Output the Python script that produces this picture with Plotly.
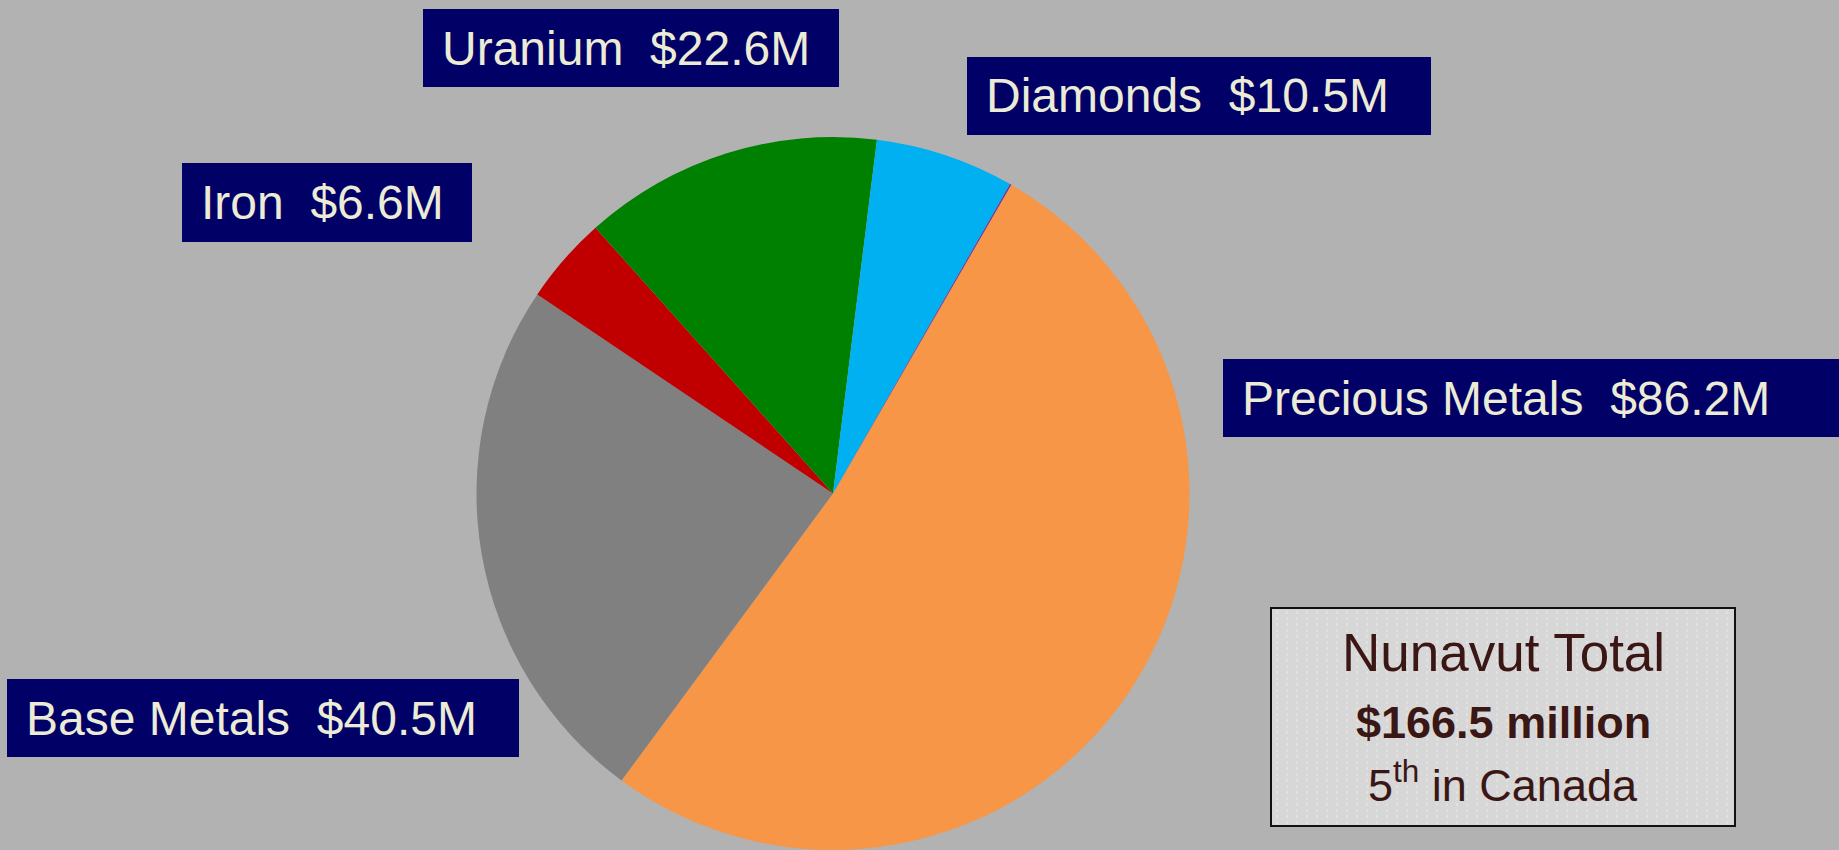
import plotly.graph_objects as go

# ---- data ----
categories = ["Precious Metals", "Base Metals", "Iron", "Uranium", "Diamonds", "Other"]
values_musd = [86.2, 40.5, 6.6, 22.6, 10.5, 0.1]
slice_colors = ["#F79646", "#808080", "#C00000", "#008000", "#00B0F0", "#7030A0"]
labelled = ["Precious Metals", "Base Metals", "Iron", "Uranium", "Diamonds"]
total_caption = "Nunavut Total"
rank_caption = "5<sup>th</sup> in Canada"

# ---- layout (pixel geometry) ----
W, H = 1839, 850
BG = "#B2B2B2"
NAVY = "#000066"
CREAM = "#ECEBD6"
label_boxes = {  # x0, y0, x1, y1 in pixels (top-left origin)
    "Uranium": (423, 9, 839, 87),
    "Diamonds": (967, 57, 1431, 135),
    "Iron": (182, 163, 472, 242),
    "Precious Metals": (1223, 359, 1839, 437),
    "Base Metals": (7, 679, 519, 757),
}
total_box = (1271, 608, 1735, 826)


def px(x):
    return x / W


def py(y):
    return 1 - y / H


cx, cy, r = 833, 494, 357

fig = go.Figure(
    go.Pie(
        labels=categories,
        values=values_musd,
        marker=dict(colors=slice_colors, line=dict(width=0)),
        sort=False,
        direction="clockwise",
        rotation=30,
        textinfo="none",
        hoverinfo="label+value",
        showlegend=False,
        domain=dict(x=[px(cx - r), px(cx + r)], y=[0, py(cy - r)]),
    )
)

shapes = []
annotations = []
vals = dict(zip(categories, values_musd))
for name in labelled:
    x0, y0, x1, y1 = label_boxes[name]
    shapes.append(dict(type="rect", xref="paper", yref="paper",
                       x0=px(x0), x1=px(x1), y0=py(y1), y1=py(y0),
                       fillcolor=NAVY, line=dict(width=0), layer="above"))
    annotations.append(dict(
        text=f"{name}\u00a0\u00a0${vals[name]:.1f}M",
        xref="paper", yref="paper", x=px(x0 + 19), y=py((y0 + y1) / 2),
        xanchor="left", yanchor="middle", showarrow=False,
        borderpad=0, borderwidth=0,
        font=dict(family="Liberation Sans, Arial", size=48, color=CREAM),
    ))

# total box with faint vertical stripes
bx0, by0, bx1, by1 = total_box
shapes.append(dict(type="rect", xref="paper", yref="paper",
                   x0=px(bx0), x1=px(bx1), y0=py(by1), y1=py(by0),
                   fillcolor="#D7D7D7", line=dict(width=0), layer="above"))
xs = bx0 + 6
while xs < bx1 - 3:
    shapes.append(dict(type="line", xref="paper", yref="paper",
                       x0=px(xs), x1=px(xs), y0=py(by1 - 2), y1=py(by0 + 2),
                       line=dict(color="#E9E9E9", width=1, dash="dot"), layer="above"))
    xs += 10
shapes.append(dict(type="rect", xref="paper", yref="paper",
                   x0=px(bx0), x1=px(bx1), y0=py(by1), y1=py(by0),
                   fillcolor="rgba(0,0,0,0)", line=dict(color="#111111", width=2), layer="above"))

total = sum(values_musd)
bcx = (bx0 + bx1) / 2
TXT = "#3A1714"
annotations.append(dict(text=total_caption, xref="paper", yref="paper",
                        x=px(bcx), y=py(652), xanchor="center", yanchor="middle",
                        showarrow=False, borderpad=0, borderwidth=0,
                        font=dict(family="Liberation Sans, Arial", size=53, color=TXT)))
annotations.append(dict(text=f"<b>${total:.1f} million</b>", xref="paper", yref="paper",
                        x=px(bcx), y=py(722), xanchor="center", yanchor="middle",
                        showarrow=False, borderpad=0, borderwidth=0,
                        font=dict(family="Liberation Sans, Arial", size=45, color=TXT)))
annotations.append(dict(text=rank_caption, xref="paper", yref="paper",
                        x=px(bcx), y=py(782), xanchor="center", yanchor="middle",
                        showarrow=False, borderpad=0, borderwidth=0,
                        font=dict(family="Liberation Sans, Arial", size=45, color=TXT)))

fig.update_layout(
    width=W, height=H,
    margin=dict(l=0, r=0, t=0, b=0, pad=0),
    paper_bgcolor=BG, plot_bgcolor=BG,
    shapes=shapes, annotations=annotations,
)

fig.write_html(
    "out.html",
    config={"displayModeBar": False},
    post_script="document.body.style.margin='0';document.body.style.padding='0';"
                "document.body.style.overflow='hidden';"
                "document.documentElement.style.background='" + BG + "';",
)
